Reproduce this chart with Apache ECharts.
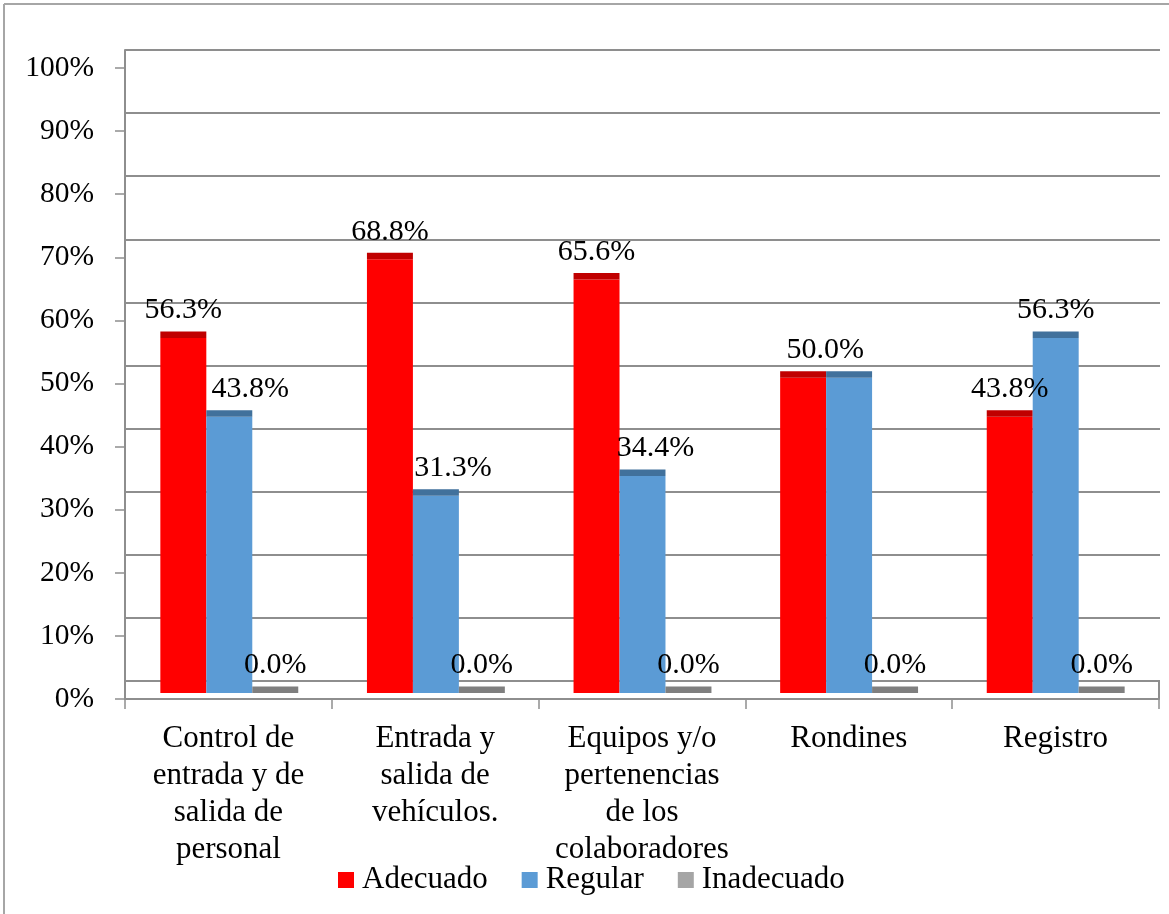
<!DOCTYPE html>
<html>
<head>
<meta charset="utf-8">
<script src="https://cdn.jsdelivr.net/npm/echarts@6.0.0/dist/echarts.min.js"></script>
<style>
  html, body { margin: 0; padding: 0; background: #fff; }
  #chart { width: 1169px; height: 914px; }
</style>
</head>
<body>
<div id="chart"></div>
<script>
// ---- Data ----
const categories = [
  "Control de\nentrada y de\nsalida de\npersonal",
  "Entrada y\nsalida de\nvehículos.",
  "Equipos y/o\npertenencias\nde los\ncolaboradores",
  "Rondines",
  "Registro"
];
const seriesNames = ["Adecuado", "Regular", "Inadecuado"];
const adecuado   = [56.3, 68.8, 65.6, 50.0, 43.8];
const regular    = [43.8, 31.3, 34.4, 50.0, 56.3];
const inadecuado = [0.0, 0.0, 0.0, 0.0, 0.0];
const yTickValues = [0, 10, 20, 30, 40, 50, 60, 70, 80, 90, 100];

// ---- Styling ----
const FONT = '"Liberation Serif", "Times New Roman", serif';
const frontColors = ["#ff0000", "#5b9bd5", "#a5a5a5"];
const capColors   = ["#c00000", "#41719c", "#7f7f7f"];
const GRID_GRAY = "#8e8e8e";
const CAP_H = 6.5;
// label horizontal adjustments (series-category) and hidden labels
const labelShift = { "1-0": 21, "1-1": 17, "1-2": 13, "0-3": 22 };
const labelHidden = { "1-3": true };

const allSeries = [adecuado, regular, inadecuado];

function makeRender(si) {
  return function (params, api) {
    const cat = api.value(0);
    const v = api.value(1);
    const base = api.coord([cat, 0]);
    const top = api.coord([cat, v]);
    const band = api.size([1, 0])[0];
    const w = band * 0.2225;
    const x = base[0] + (si - 1.5) * w;
    const key = si + "-" + cat;
    const children = [
      { type: "rect", shape: { x: x, y: top[1], width: w, height: base[1] - top[1] },
        style: { fill: frontColors[si] } },
      { type: "rect", shape: { x: x, y: top[1] - CAP_H, width: w, height: CAP_H },
        style: { fill: capColors[si] } }
    ];
    if (!labelHidden[key]) {
      children.push({
        type: "text", z2: 100,
        style: {
          text: v.toFixed(1) + "%",
          x: x + w / 2 + (labelShift[key] || 0),
          y: top[1] - CAP_H - 21,
          align: "center", verticalAlign: "middle",
          textAlign: "center", textVerticalAlign: "middle",
          fontSize: 30, fontFamily: FONT, fill: "#000"
        }
      });
    }
    return { type: "group", children: children };
  };
}

const chart = echarts.init(document.getElementById("chart"), null, { renderer: "canvas" });

const option = {
  backgroundColor: "#ffffff",
  animation: false,
  textStyle: { fontFamily: FONT },
  grid: [
    // 0: tick labels / axis lines (front plane)
    { left: 125, right: 10, top: 68, bottom: 215, containLabel: false },
    // 1: back wall gridlines
    { left: 125, right: 9, top: 50, bottom: 233, containLabel: false },
    // 2: bars
    { left: 126, right: 10, top: 62.5, bottom: 221, containLabel: false }
  ],
  xAxis: [
    { type: "category", gridIndex: 0, data: categories, boundaryGap: true,
      axisLine: { show: true, lineStyle: { color: GRID_GRAY, width: 2 } },
      axisTick: { show: true, length: 10, alignWithLabel: false, lineStyle: { color: GRID_GRAY, width: 1.5 } },
      axisLabel: { interval: 0, margin: 22, color: "#000", fontSize: 31, fontFamily: FONT, lineHeight: 36.7, align: "center" },
      splitLine: { show: false } },
    { type: "category", gridIndex: 1, data: categories, show: false },
    { type: "category", gridIndex: 2, data: categories, show: false }
  ],
  yAxis: [
    { type: "value", gridIndex: 0, min: 0, max: 100, interval: 10,
      axisLine: { show: true, lineStyle: { color: GRID_GRAY, width: 2 } },
      axisTick: { show: true, length: 10, lineStyle: { color: GRID_GRAY, width: 1.5 } },
      axisLabel: { margin: 31, color: "#000", fontSize: 29.5, fontFamily: FONT,
        formatter: function (val) { return yTickValues.indexOf(val) >= 0 ? val + "%" : ""; } },
      splitLine: { show: false } },
    { type: "value", gridIndex: 1, min: 0, max: 100, interval: 10,
      axisLine: { show: true, lineStyle: { color: GRID_GRAY, width: 2 } },
      axisTick: { show: false }, axisLabel: { show: false },
      splitLine: { show: true, lineStyle: { color: GRID_GRAY, width: 2 } } },
    { type: "value", gridIndex: 2, min: 0, max: 100, show: false, splitLine: { show: false } }
  ],
  legend: {
    left: 338, top: 864, padding: 0,
    icon: "rect", itemWidth: 16, itemHeight: 16, itemGap: 34,
    textStyle: { fontSize: 31, fontFamily: FONT, color: "#000", lineHeight: 32, padding: [0, 0, 0, 3] },
    data: seriesNames.map(function (n, i) { return { name: n, itemStyle: { color: frontColors[i] } }; }),
    selectedMode: false
  },
  graphic: [
    { type: "line", silent: true, shape: { x1: 4, y1: 4, x2: 1169, y2: 4 }, style: { stroke: "#a6a6a6", lineWidth: 2 } },
    { type: "line", silent: true, shape: { x1: 4, y1: 4, x2: 4, y2: 914 }, style: { stroke: "#a6a6a6", lineWidth: 2 } },
    { type: "line", silent: true, shape: { x1: 1159, y1: 681, x2: 1159, y2: 699 }, style: { stroke: GRID_GRAY, lineWidth: 2 } }
  ],
  series: allSeries.map(function (arr, si) {
    return {
      name: seriesNames[si],
      type: "custom",
      xAxisIndex: 2, yAxisIndex: 2,
      itemStyle: { color: frontColors[si] },
      renderItem: makeRender(si),
      encode: { x: 0, y: 1 },
      silent: true,
      data: arr.map(function (v, ci) { return [ci, v]; })
    };
  })
};

chart.setOption(option);
</script>
</body>
</html>
